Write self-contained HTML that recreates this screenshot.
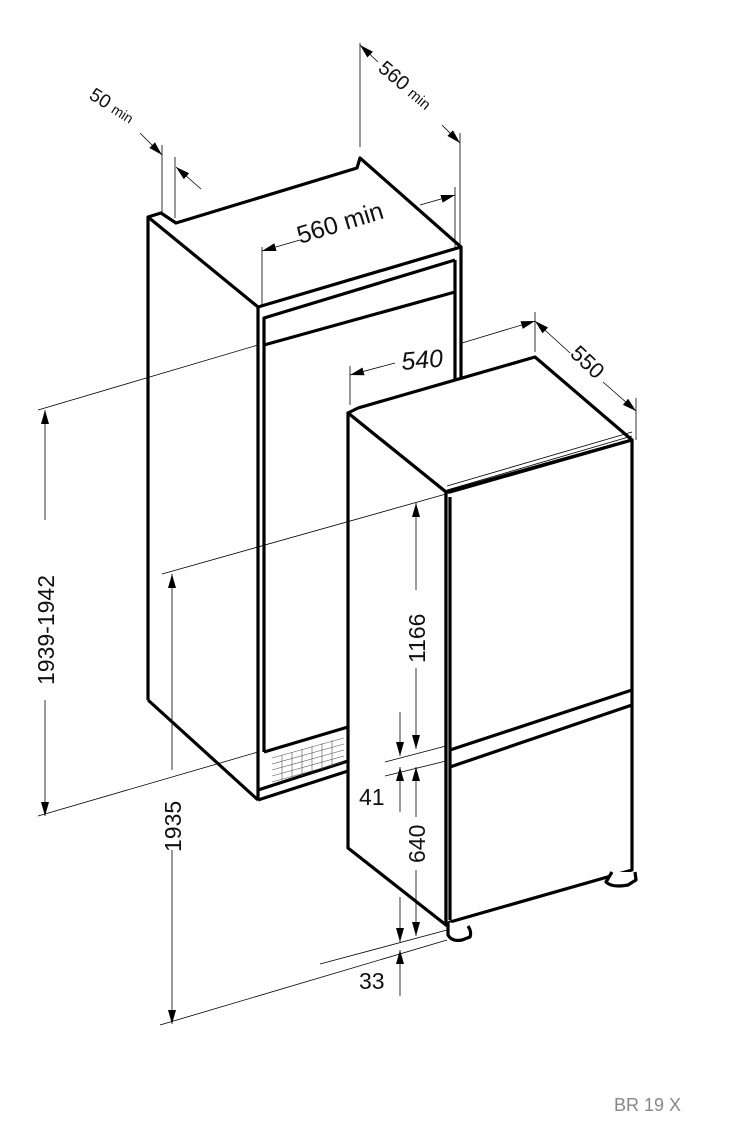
<!DOCTYPE html>
<html><head><meta charset="utf-8"><style>
html,body{margin:0;padding:0;background:#fff;}
svg{display:block;}
text{font-family:"Liberation Sans",sans-serif;fill:#111;}
</style></head><body>
<svg width="745" height="1137" viewBox="0 0 745 1137" xmlns="http://www.w3.org/2000/svg">
<defs>
<marker id="a" markerWidth="14" markerHeight="8" refX="14" refY="4" orient="auto" markerUnits="userSpaceOnUse">
<path d="M0,0 L14,4 L0,8 Z" fill="#000"/></marker>
</defs>
<!-- niche cabinet -->
<g stroke="#000" stroke-width="3.2" fill="none" stroke-linejoin="round">
 <polyline points="148,700 148,217 161,213 176,223 357,168 360,158 461,247 258,307 148,217"/>
 <line x1="461" y1="247" x2="461" y2="378"/>
 <line x1="258" y1="307" x2="258" y2="800"/>
 <line x1="148" y1="700" x2="258" y2="800"/>
 <line x1="258" y1="800" x2="348" y2="771"/>
 <polyline points="264,752 264,318 455,260"/>
 <line x1="455" y1="260" x2="455" y2="382"/>
 <line x1="264" y1="345" x2="455" y2="292"/>
 <line x1="264" y1="752" x2="348" y2="727"/>
 <line x1="348" y1="761" x2="258" y2="790"/>
</g>
<g stroke="#555" stroke-width="0.6" fill="none">
 <path d="M272,758 L344,738 M272,764 L344,744 M272,770 L344,750 M272,776 L344,756 M272,782 L344,762"/>
 <path d="M282,755 V782 M292,752 V779 M302,749 V776 M312,746 V773 M322,743 V770 M332,740 V767"/>
</g>
<!-- fridge -->
<g stroke="#000" stroke-width="3.2" fill="#fff" stroke-linejoin="round">
 <polygon points="348,413 358,408 535,357 632,440 446,492 348,413"/>
 <polygon points="348,413 446,492 446,925 348,848"/>
 <polygon points="446,492 450,492 632,440 632,870 450,922 446,925"/>
 <line x1="450" y1="497" x2="450" y2="920"/>
 <line x1="450" y1="750" x2="632" y2="690"/>
 <line x1="450" y1="767" x2="632" y2="705"/>
 <path d="M448,922 L448,935 Q452,942 462,940 L470,937 Q472,932 468,926" />
 <path d="M612,872 L606,882 Q612,888 628,885 L636,880 L635,872"/>
</g>
<g stroke="#000" stroke-width="0.8" fill="none">
 <line x1="447" y1="486" x2="632" y2="432"/>
 <line x1="447" y1="490" x2="632" y2="436"/>
</g>
<!-- thin dimension lines -->
<g stroke="#000" stroke-width="0.8" fill="none">
 <line x1="162" y1="145" x2="162" y2="213"/>
 <line x1="175" y1="157" x2="175" y2="218"/>
 <line x1="140" y1="133" x2="162" y2="155" marker-end="url(#a)"/>
 <line x1="201" y1="189" x2="176" y2="167" marker-end="url(#a)"/>
 <line x1="360" y1="43" x2="360" y2="147"/>
 <line x1="460" y1="133" x2="460" y2="245"/>
 <line x1="378" y1="62" x2="360" y2="45" marker-end="url(#a)"/>
 <line x1="442" y1="125" x2="460" y2="143" marker-end="url(#a)"/>
 <line x1="262" y1="247" x2="262" y2="305"/>
 <line x1="455" y1="187" x2="455" y2="247"/>
 <line x1="300" y1="240" x2="262" y2="251" marker-end="url(#a)"/>
 <line x1="420" y1="205" x2="455" y2="195" marker-end="url(#a)"/>
 <line x1="350" y1="366" x2="350" y2="405"/>
 <line x1="535" y1="312" x2="535" y2="352"/>
 <line x1="395" y1="363" x2="350" y2="375" marker-end="url(#a)"/>
 <line x1="462" y1="343" x2="535" y2="321" marker-end="url(#a)"/>
 <line x1="636" y1="398" x2="636" y2="440"/>
 <line x1="570" y1="353" x2="535" y2="321" marker-end="url(#a)"/>
 <line x1="603" y1="382" x2="636" y2="411" marker-end="url(#a)"/>
 <line x1="38" y1="410" x2="258" y2="345"/>
 <line x1="38" y1="816" x2="258" y2="752"/>
 <line x1="45" y1="520" x2="45" y2="410" marker-end="url(#a)"/>
 <line x1="45" y1="700" x2="45" y2="816" marker-end="url(#a)"/>
 <line x1="162" y1="574" x2="446" y2="494"/>
 <line x1="160" y1="1025" x2="447" y2="940"/>
 <line x1="172" y1="770" x2="172" y2="574" marker-end="url(#a)"/>
 <line x1="172" y1="850" x2="172" y2="1024" marker-end="url(#a)"/>
 <line x1="385" y1="762" x2="446" y2="746"/>
 <line x1="385" y1="776" x2="446" y2="761"/>
 <line x1="320" y1="964" x2="447" y2="930"/>
 <line x1="416" y1="590" x2="416" y2="503" marker-end="url(#a)"/>
 <line x1="416" y1="668" x2="416" y2="749" marker-end="url(#a)"/>
 <line x1="400" y1="712" x2="400" y2="756" marker-end="url(#a)"/>
 <line x1="400" y1="812" x2="400" y2="767" marker-end="url(#a)"/>
 <line x1="416" y1="817" x2="416" y2="767" marker-end="url(#a)"/>
 <line x1="416" y1="870" x2="416" y2="936" marker-end="url(#a)"/>
 <line x1="400" y1="897" x2="400" y2="942" marker-end="url(#a)"/>
 <line x1="400" y1="996" x2="400" y2="950" marker-end="url(#a)"/>
</g>
<!-- labels -->
<text x="0" y="0" font-size="19" transform="translate(88,98) rotate(32)">50 <tspan font-size="14">min</tspan></text>
<text x="0" y="0" font-size="20" transform="translate(377,70) rotate(40)">560 <tspan font-size="15">min</tspan></text>
<text x="0" y="0" font-size="25" transform="translate(300,244) rotate(-17)">560 min</text>
<text x="0" y="0" font-size="25" font-style="italic" transform="translate(402,370) rotate(-5)">540</text>
<text x="0" y="0" font-size="22" transform="translate(569,355) rotate(43)">550</text>
<text x="0" y="0" font-size="23" transform="translate(54,685) rotate(-90)">1939-1942</text>
<text x="0" y="0" font-size="23" transform="translate(181,852) rotate(-90)">1935</text>
<text x="0" y="0" font-size="23" transform="translate(425,663) rotate(-90)">1166</text>
<text x="0" y="0" font-size="23" transform="translate(425,863) rotate(-90)">640</text>
<text x="359" y="805" font-size="23">41</text>
<text x="359" y="989" font-size="23">33</text>
<text x="614" y="1111" font-size="18" style="fill:#888">BR 19 X</text>
</svg>
</body></html>
